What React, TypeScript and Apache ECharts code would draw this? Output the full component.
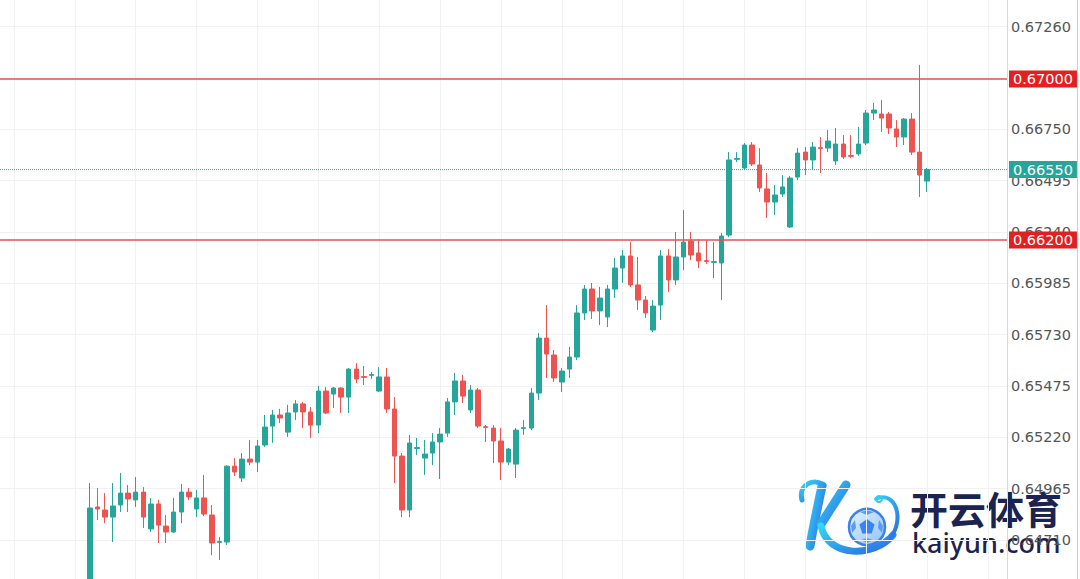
import React, { useEffect, useRef } from "react";
import * as echarts from "echarts";

// Price axis tick labels (right side)
const TICKS = [0.6471, 0.64965, 0.6522, 0.65475, 0.6573, 0.65985, 0.6624, 0.66495, 0.6675, 0.67005, 0.6726];
// Vertical grid positions (in candle-index units)
const VGRID = [-10, -2, 6, 14, 22, 30, 38, 46, 54, 62, 70, 78, 86, 94, 102, 110, 118];
// Visible index range of the time axis
const X_MIN = -11.828;
const X_MAX = 120.51;

// Horizontal levels
const RESIST = 0.67;
const SUPPORT = 0.662;
const LAST_PRICE = 0.6655;

const OPEN = [
  0.64213, 0.64874, 0.64859, 0.64824, 0.64884, 0.64943, 0.64909, 0.64948, 0.64765, 0.64889,
  0.64779, 0.6475, 0.64849, 0.64948, 0.64864, 0.64919, 0.64834, 0.64698, 0.647, 0.65077,
  0.65018, 0.65112, 0.65097, 0.65182, 0.65276, 0.65331, 0.65246, 0.65346, 0.65386, 0.65346,
  0.65281, 0.6545, 0.65435, 0.65465, 0.6542, 0.65559, 0.65522, 0.65528, 0.6545, 0.6552,
  0.65361, 0.65127, 0.64859, 0.65165, 0.65117, 0.65142, 0.65197, 0.65241, 0.65396, 0.655,
  0.65356, 0.65455, 0.65273, 0.65266, 0.65202, 0.65097, 0.65087, 0.65264, 0.65266, 0.6544,
  0.65713, 0.65629, 0.65495, 0.65559, 0.65619, 0.65838, 0.65957, 0.65848, 0.65818, 0.65957,
  0.66061, 0.66121, 0.65977, 0.65902, 0.65753, 0.65877, 0.66121, 0.66002, 0.66116, 0.66195,
  0.66136, 0.66098, 0.66089, 0.66086, 0.66225, 0.66601, 0.66558, 0.66672, 0.66573, 0.66454,
  0.66389, 0.66429, 0.66265, 0.66513, 0.66637, 0.66598, 0.66659, 0.66657, 0.66593, 0.66677,
  0.6662, 0.66628, 0.66682, 0.66831, 0.66826, 0.66826, 0.66752, 0.66712, 0.66801, 0.66637,
  0.66493,
];
const CLOSE = [
  0.64869, 0.64864, 0.64824, 0.64879, 0.64943, 0.64914, 0.64948, 0.64824, 0.64889, 0.64784,
  0.6475, 0.64849, 0.64948, 0.64924, 0.64919, 0.64839, 0.64695, 0.64702, 0.65077, 0.65048,
  0.65112, 0.65097, 0.65177, 0.65271, 0.65331, 0.65316, 0.65341, 0.65386, 0.65346, 0.65281,
  0.6545, 0.65341, 0.65465, 0.6542, 0.65559, 0.6551, 0.65518, 0.65532, 0.6552, 0.65361,
  0.65127, 0.64859, 0.65192, 0.65169, 0.65137, 0.65197, 0.65236, 0.65396, 0.655, 0.65425,
  0.65455, 0.65276, 0.65269, 0.65202, 0.65097, 0.65162, 0.65256, 0.65268, 0.6544, 0.65713,
  0.65634, 0.65515, 0.65549, 0.65619, 0.65838, 0.65957, 0.65848, 0.65912, 0.65957, 0.66061,
  0.66121, 0.65977, 0.65902, 0.65838, 0.65872, 0.66121, 0.66002, 0.66116, 0.6619, 0.66126,
  0.66096, 0.66094, 0.66093, 0.6622, 0.66598, 0.66605, 0.66672, 0.66578, 0.66459, 0.66389,
  0.66424, 0.66464, 0.66508, 0.66632, 0.66598, 0.66662, 0.66655, 0.66692, 0.66677, 0.66613,
  0.66616, 0.66677, 0.66831, 0.66846, 0.66806, 0.66757, 0.66712, 0.66801, 0.66637, 0.66523,
  0.6655,
];
const LOW = [
  0.64163, 0.64809, 0.64794, 0.647, 0.64849, 0.64849, 0.64874, 0.6477, 0.6475, 0.64695,
  0.64695, 0.64745, 0.64794, 0.64909, 0.64824, 0.64829, 0.64635, 0.64611, 0.64685, 0.65028,
  0.64998, 0.65082, 0.65048, 0.65172, 0.65192, 0.65291, 0.65222, 0.65306, 0.65266, 0.65217,
  0.65241, 0.65336, 0.65366, 0.65341, 0.65341, 0.6549, 0.6548, 0.6551, 0.65445, 0.65341,
  0.64993, 0.64824, 0.64824, 0.65132, 0.65033, 0.65082, 0.65013, 0.65222, 0.65331, 0.65391,
  0.65341, 0.65266, 0.65197, 0.65092, 0.65008, 0.65082, 0.65018, 0.65232, 0.65256, 0.65405,
  0.65515, 0.65495, 0.65445, 0.65515, 0.65604, 0.65803, 0.65808, 0.65778, 0.65768, 0.65912,
  0.65987, 0.65967, 0.65853, 0.65813, 0.65743, 0.65803, 0.65942, 0.65977, 0.66051, 0.66101,
  0.66061, 0.66081, 0.66011, 0.65902, 0.66215, 0.66588, 0.66548, 0.66568, 0.66439, 0.6631,
  0.66324, 0.66414, 0.6626, 0.66498, 0.66523, 0.66548, 0.66533, 0.66637, 0.66573, 0.66603,
  0.66608, 0.66618, 0.66672, 0.66796, 0.66737, 0.66727, 0.66662, 0.66672, 0.66623, 0.66414,
  0.66439,
];
const HIGH = [
  0.64993, 0.64968, 0.64943, 0.64993, 0.65043, 0.64983, 0.65023, 0.64973, 0.64919, 0.64909,
  0.64834, 0.64919, 0.64988, 0.64968, 0.64958, 0.65033, 0.64884, 0.64725, 0.65082, 0.65117,
  0.65142, 0.65207, 0.65207, 0.65331, 0.65356, 0.65361, 0.65381, 0.65405, 0.65396, 0.65371,
  0.65475, 0.6547, 0.6547, 0.6547, 0.65564, 0.65589, 0.65574, 0.65544, 0.65569, 0.65564,
  0.6542, 0.65142, 0.65232, 0.65217, 0.65207, 0.65241, 0.65266, 0.65415, 0.6554, 0.6553,
  0.6548, 0.65465, 0.65281, 0.65281, 0.65266, 0.65167, 0.65266, 0.65306, 0.65465, 0.65738,
  0.65877, 0.65654, 0.65564, 0.65669, 0.65877, 0.65977, 0.65987, 0.65967, 0.65977, 0.66111,
  0.66151, 0.6619, 0.66116, 0.65922, 0.65902, 0.66151, 0.66156, 0.6624, 0.66349, 0.6624,
  0.66205, 0.662, 0.6619, 0.66235, 0.66637, 0.66637, 0.66682, 0.66687, 0.66657, 0.66533,
  0.66474, 0.66523, 0.66518, 0.66657, 0.66662, 0.66687, 0.66712, 0.66747, 0.66757, 0.66722,
  0.66722, 0.66762, 0.66846, 0.66881, 0.66896, 0.66836, 0.66796, 0.66806, 0.66831, 0.6707,
  0.66558,
];

const UP = "#26a69a";
const DOWN = "#ef5350";
const FONT = "DejaVu Sans";

export default function App() {
  const ref = useRef<HTMLDivElement>(null);

  useEffect(() => {
    const chart = echarts.init(ref.current as HTMLDivElement, null, { renderer: "svg" });
    const data = OPEN.map((o, i) => [i, o, CLOSE[i], LOW[i], HIGH[i]]);

    const levelSeries = (value: number, color: string, type: string, width: number, bg: string) => ({
      type: "line",
      data: [
        [X_MIN, value],
        [X_MAX, value],
      ],
      symbol: "none",
      silent: true,
      clip: false,
      z: 3,
      lineStyle: { color, width, type },
      endLabel: {
        show: true,
        distance: 2,
        formatter: () => value.toFixed(5),
        color: "#fff",
        backgroundColor: bg,
        fontFamily: FONT,
        fontSize: 14.5,
        lineHeight: 16,
        padding: [1, 4, 0, 4],
      },
    });

    const logoGrad = () =>
      new echarts.graphic.LinearGradient(0, 0, 1, 1, [
        { offset: 0, color: "#33d6f3" },
        { offset: 1, color: "#2b6be6" },
      ]);

    const stroke = (w: number) => ({ stroke: logoGrad(), lineWidth: w, lineCap: "round", fill: null });

    chart.setOption({
      animation: false,
      backgroundColor: "#ffffff",
      grid: { left: 0, right: 73, top: 0, bottom: 0 },
      xAxis: {
        type: "value",
        min: X_MIN,
        max: X_MAX,
        axisLine: { show: false, onZero: false },
        axisLabel: { show: false },
        axisTick: { show: false, customValues: VGRID },
        splitLine: { show: true, lineStyle: { color: "#f1f1f1", width: 1 } },
      },
      yAxis: {
        type: "value",
        position: "right",
        min: 0.645163,
        max: 0.673926,
        axisLine: { show: true, onZero: false, lineStyle: { color: "#d6d6d6", width: 1 } },
        axisTick: { show: false, customValues: TICKS },
        axisLabel: {
          customValues: TICKS,
          formatter: (v: number) => v.toFixed(5),
          color: "#555",
          fontFamily: FONT,
          fontSize: 14.5,
          margin: 4,
        },
        splitLine: { show: true, lineStyle: { color: "#f1f1f1", width: 1 } },
      },
      series: [
        {
          type: "candlestick",
          data,
          encode: { x: 0, y: [1, 2, 3, 4] },
          barWidth: 5,
          clip: true,
          itemStyle: {
            color: UP,
            color0: DOWN,
            borderColor: UP,
            borderColor0: DOWN,
            borderWidth: 1,
          },
        },
        levelSeries(RESIST, "#e25252", "solid", 1.5, "#e3201f"),
        levelSeries(SUPPORT, "#e25252", "solid", 1.5, "#e3201f"),
        levelSeries(LAST_PRICE, UP, "dotted", 1, UP),
      ],
      graphic: [
        {
          type: "line",
          shape: { x1: 1007.5, y1: 0, x2: 1007.5, y2: 579 },
          style: { stroke: "#d9d9d9", lineWidth: 1 },
          z: 1,
        },
        {
          type: "line",
          shape: { x1: 1077.5, y1: 0, x2: 1077.5, y2: 579 },
          style: { stroke: "#d0d0d0", lineWidth: 1 },
          z: 50,
        },
        {
          type: "group",
          z: 100,
          children: [
            {
              type: "bezierCurve",
              shape: { x1: 822, y1: 486, cpx1: 818, cpy1: 505, cpx2: 813, cpy2: 528, x2: 810, y2: 546 },
              style: stroke(9),
            },
            {
              type: "bezierCurve",
              shape: { x1: 824, y1: 485, cpx1: 812, cpy1: 477, cpx2: 798, cpy2: 486, x2: 802, y2: 500 },
              style: stroke(5),
            },
            {
              type: "line",
              shape: { x1: 846, y1: 485, x2: 821, y2: 524 },
              style: stroke(9),
            },
            {
              type: "bezierCurve",
              shape: { x1: 821, y1: 526, cpx1: 828, cpy1: 558, cpx2: 874, cpy2: 558, x2: 893, y2: 535 },
              style: stroke(7),
            },
            {
              type: "bezierCurve",
              shape: { x1: 876, y1: 499, cpx1: 896, cpy1: 490, cpx2: 905, cpy2: 520, x2: 890, y2: 538 },
              style: stroke(4),
            },
            {
              type: "circle",
              shape: { cx: 879, cy: 499, r: 3 },
              style: { stroke: "#33c8f0", lineWidth: 2, fill: null },
            },
            {
              type: "circle",
              shape: { cx: 867, cy: 527, r: 18 },
              style: {
                fill: new echarts.graphic.LinearGradient(0, 0, 1, 1, [
                  { offset: 0, color: "#e4f3ff" },
                  { offset: 1, color: "#8ec2f5" },
                ]),
                stroke: "#3a80ee",
                lineWidth: 2.5,
              },
            },
            {
              type: "polygon",
              shape: {
                points: [
                  [867, 519],
                  [874.6, 524.5],
                  [871.7, 533.5],
                  [862.3, 533.5],
                  [859.4, 524.5],
                ],
              },
              style: { fill: "#3b82f6" },
            },
            {
              type: "polygon",
              shape: { points: [[860, 512], [867, 510.5], [874, 512], [867, 515]] },
              style: { fill: "#5b9bf0" },
            },
            {
              type: "polygon",
              shape: { points: [[879, 520], [883, 526], [882, 533], [878, 528]] },
              style: { fill: "#5b9bf0" },
            },
            {
              type: "polygon",
              shape: { points: [[855, 520], [851, 526], [852, 533], [856, 528]] },
              style: { fill: "#5b9bf0" },
            },
            {
              type: "polygon",
              shape: { points: [[861, 540], [867, 543], [873, 540], [867, 538]] },
              style: { fill: "#5b9bf0" },
            },
            {
              type: "text",
              x: 910,
              y: 488,
              style: {
                text: "开云体育",
                font: 'bold 38px "Noto Sans CJK SC"',
                fill: "#1b2350",
              },
            },
            {
              type: "text",
              x: 912,
              y: 529,
              style: {
                text: "kaiyun.com",
                font: '500 27px "Noto Sans"',
                fill: "#1b2350",
              },
            },
          ],
        },
      ],
    });

    return () => chart.dispose();
  }, []);

  return (
    <div
      ref={ref}
      style={{ position: "fixed", left: 0, top: 0, width: 1080, height: 579, background: "#fff" }}
    />
  );
}
